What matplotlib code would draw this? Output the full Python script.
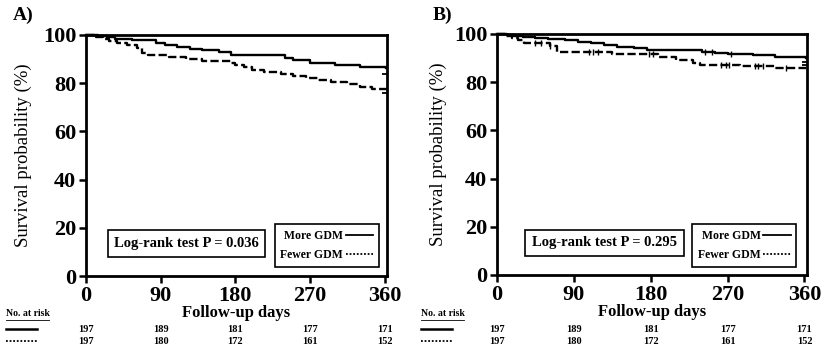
import numpy as np
import matplotlib
matplotlib.use("Agg")
import matplotlib.pyplot as plt
import matplotlib.transforms as mtransforms
from matplotlib.lines import Line2D

plt.rcParams['font.family'] = ['Liberation Serif', 'DejaVu Serif']

# ---- data ----
xticks = [0, 90, 180, 270, 360]
yticks = [0, 20, 40, 60, 80, 100]

# panel A
a_more_t = [0, 15, 25, 35, 55, 85, 95, 110, 125, 140, 160, 175, 240, 250, 270, 300, 330, 362]
a_more_s = [100, 99.5, 99.0, 98.4, 97.8, 96.8, 95.8, 95.0, 94.3, 93.6, 92.8, 91.6, 90.6, 89.6, 88.3, 87.6, 86.9, 86.4]
a_fewer_t = [0, 12, 20, 28, 38, 50, 62, 68, 75, 100, 120, 140, 175, 180, 190, 200, 215, 235,
             250, 265, 280, 295, 315, 330, 345, 362]
a_fewer_s = [100, 99.3, 98.5, 97.5, 96.5, 95.8, 94.5, 92.5, 91.5, 91.0, 90.2, 89.2, 88.5, 87.6,
             86.6, 85.5, 84.8, 83.9, 83.0, 82.2, 81.3, 80.5, 79.6, 78.6, 77.8, 77.0]
a_end_more = [84.0]
a_end_fewer = [75.8]
a_more_cens = []
a_fewer_cens = []

# panel B
b_more_t = [0, 12, 20, 30, 45, 60, 80, 95, 110, 125, 140, 160, 176, 240, 255, 270, 300, 325, 362]
b_more_s = [100, 99.6, 99.2, 98.8, 98.4, 98.0, 97.4, 96.8, 96.1, 95.4, 94.7, 94.0, 93.3, 92.6,
            92.1, 91.6, 91.2, 90.5, 90.0]
b_fewer_t = [0, 10, 18, 25, 32, 62, 70, 135, 188, 210, 230, 238, 285, 325, 362]
b_fewer_s = [100, 99.3, 98.5, 97.6, 96.4, 95.2, 92.7, 91.5, 90.4, 89.4, 88.0, 87.3, 86.6, 85.9, 85.9]
b_more_cens = [243, 252, 274]
b_fewer_cens = [45, 52, 62, 108, 113, 118, 178, 183, 262, 268, 272, 302, 306, 312, 338]
b_end_more = [88.4]
b_end_fewer = [87.0]

risk_more = [197, 189, 181, 177, 171]
risk_fewer = [197, 180, 172, 161, 152]

p_a = "Log-rank test P = 0.036"
p_b = "Log-rank test P = 0.295"

DASH = (0, (3.5, 1.4))
DOT = (0, (1, 1))


def step_at(t, s, x):
    idx = np.searchsorted(t, x, side='right') - 1
    return np.asarray(s)[idx]


fig = plt.figure(figsize=(8.25, 3.5), dpi=100)

panels = [
    dict(rect=[0.1042, 0.2114, 0.365, 0.6886], label="A)", lx=0.016,
         more=(a_more_t, a_more_s, a_more_cens, a_end_more),
         fewer=(a_fewer_t, a_fewer_s, a_fewer_cens, a_end_fewer),
         p=p_a, pbox=(0.334, 0.135), leg=(0.972, 0.037), tx=0.007, ylab=-0.18),
    dict(rect=[0.6024, 0.2143, 0.3758, 0.6886], label="B)", lx=0.525,
         more=(b_more_t, b_more_s, b_more_cens, b_end_more),
         fewer=(b_fewer_t, b_fewer_s, b_fewer_cens, b_end_fewer),
         p=p_b, pbox=(0.347, 0.133), leg=(0.966, 0.033), tx=0.51, ylab=-0.16),
]

for pn in panels:
    ax = fig.add_axes(pn['rect'])
    for key, ls in (('more', '-'), ('fewer', DASH)):
        t, s, cens, ends = pn[key]
        ax.plot(t, s, drawstyle='steps-post', color='black', lw=1.7, linestyle=ls,
                clip_on=False, zorder=3)
        if cens:
            ax.plot(cens, step_at(t, s, cens), linestyle='none', marker='|', ms=4.5,
                    mew=1.0, color='black', zorder=4)
        ax.plot([361] * len(ends), ends, linestyle='none', marker='_', ms=5, mew=1.3,
                color='black', clip_on=False, zorder=4)

    ax.set_xlim(0, 363)
    ax.set_ylim(0, 100)
    ax.set_xticks(xticks)
    ax.set_yticks(yticks)
    for sp in ax.spines.values():
        sp.set_linewidth(2.0)
    ax.tick_params(direction='out', length=5, width=1.8, pad=2)
    for lab in ax.get_xticklabels() + ax.get_yticklabels():
        lab.set_fontsize(16)
        lab.set_fontweight('bold')
    ax.set_ylabel("Survival probability (%)", fontsize=13.5)
    ax.yaxis.set_label_coords(pn['ylab'], 0.5)
    ax.text(0.5, -0.152, "Follow-up days", transform=ax.transAxes, ha='center', va='center',
            fontsize=12, fontweight='bold')

    ax.text(pn['pbox'][0], pn['pbox'][1], pn['p'], transform=ax.transAxes, ha='center',
            va='center', fontsize=10.5, fontweight='bold',
            bbox=dict(boxstyle='square,pad=0.45', fc='white', ec='black', lw=1.2))

    handles = [Line2D([], [], color='black', lw=1.3),
               Line2D([], [], color='black', lw=1.3, linestyle=DOT)]
    leg = ax.legend(handles, ["More GDM", "Fewer GDM"], loc='lower right',
                    bbox_to_anchor=pn['leg'], markerfirst=False, fancybox=False,
                    framealpha=1, edgecolor='black', prop=dict(size=8.5, weight='bold'),
                    handlelength=2.3, handletextpad=0.2, borderpad=0.5, labelspacing=0.6,
                    borderaxespad=0)
    leg.get_frame().set_linewidth(1.2)

    fig.text(pn['lx'], 0.957, pn['label'], fontsize=14, fontweight='bold', va='center')

    # number at risk table
    fig.text(pn['tx'], 1 - 314 / 350, "No. at risk", fontsize=7, fontweight='bold',
             va='center', ha='left')
    x0 = pn['tx']
    fig.add_artist(Line2D([x0, x0 + 0.052], [1 - 320 / 350] * 2, color='black', lw=0.6))
    fig.add_artist(Line2D([x0, x0 + 0.038], [1 - 329 / 350] * 2, color='black', lw=1.8))
    fig.add_artist(Line2D([x0, x0 + 0.038], [1 - 341 / 350] * 2, color='black', lw=1.3,
                          linestyle=DOT))
    trans = mtransforms.blended_transform_factory(ax.transData, fig.transFigure)
    for xv, n1, n2 in zip(xticks, risk_more, risk_fewer):
        ax.text(xv, 1 - 329 / 350, str(n1), transform=trans, ha='center', va='center',
                fontsize=7.5, fontweight='bold')
        ax.text(xv, 1 - 341 / 350, str(n2), transform=trans, ha='center', va='center',
                fontsize=7.5, fontweight='bold')

fig.savefig("out.png", dpi=100, facecolor='white')
